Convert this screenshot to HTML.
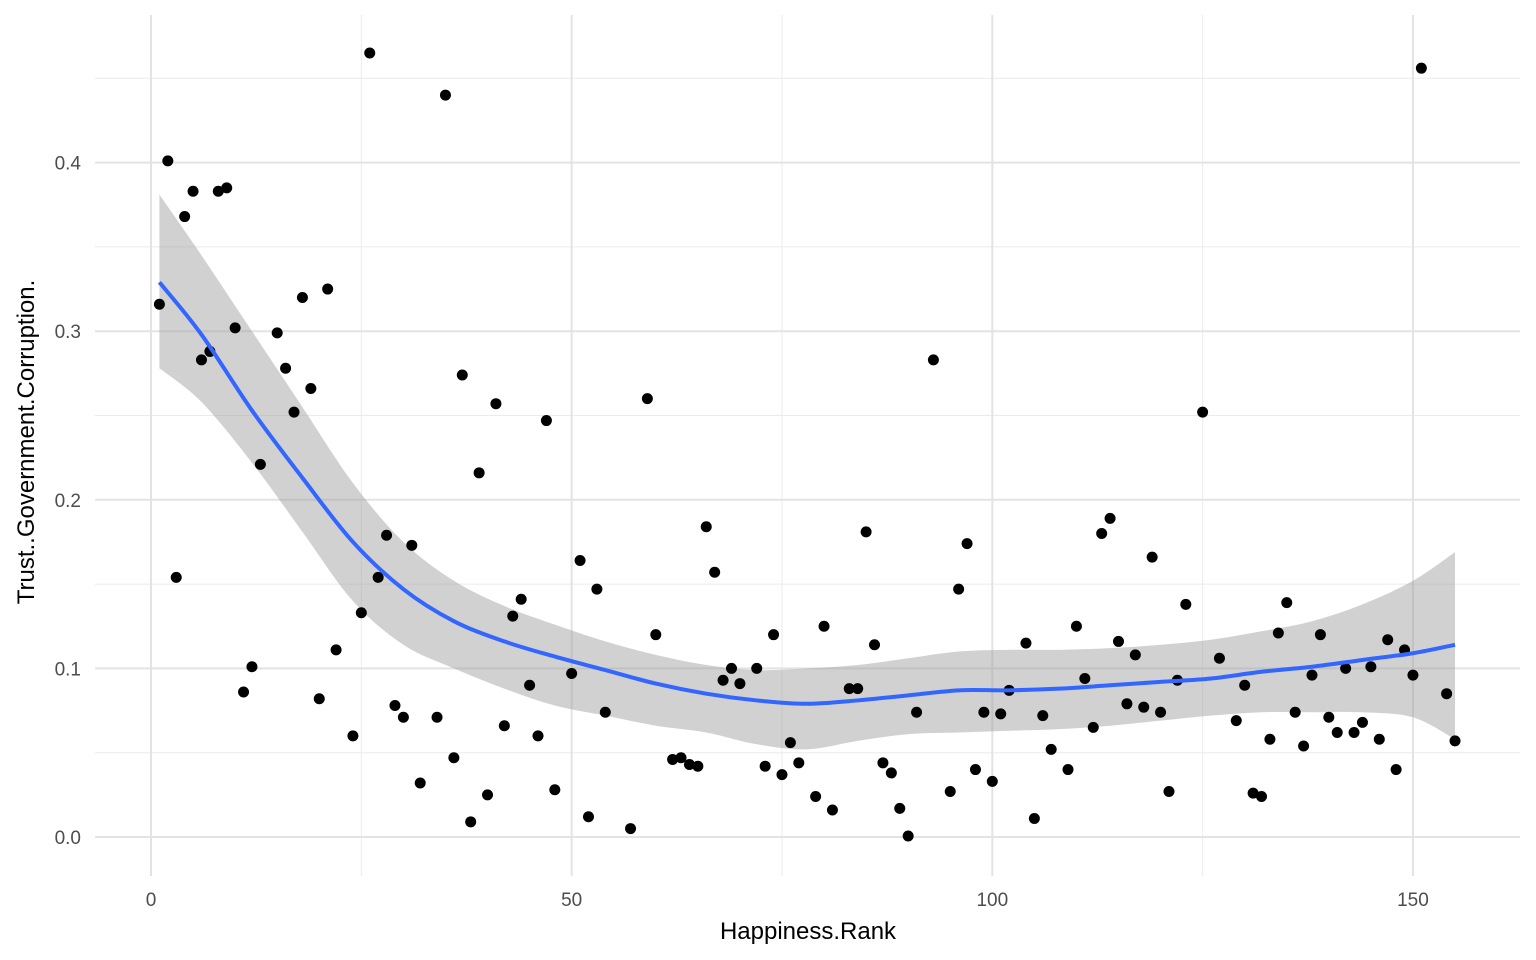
<!DOCTYPE html>
<html><head><meta charset="utf-8"><style>
html,body{margin:0;padding:0;background:#fff;}
svg{display:block;font-family:"Liberation Sans",Arial,sans-serif;}
</style></head><body>
<svg id="chart" width="1536" height="960" viewBox="0 0 1536 960">
<g id="grid"></g>
<g id="band"></g>
<g id="pts"></g>
<g id="line"></g>
<g id="axes"></g>
<text x="808" y="939" text-anchor="middle" font-size="24" fill="#000">Happiness.Rank</text>
<text transform="translate(34,442) rotate(-90)" text-anchor="middle" font-size="24" fill="#000">Trust..Government.Corruption.</text>
</svg>
<script>
const ranks=[1,2,3,4,5,6,7,8,9,10,11,12,13,15,16,17,18,19,20,21,22,24,25,26,27,28,29,30,31,32,34,35,36,37,38,39,40,41,42,43,44,45,46,47,48,50,51,52,53,54,57,59,60,62,63,64,65,66,67,68,69,70,72,73,74,75,76,77,79,80,81,83,84,85,86,87,88,89,90,91,93,95,96,97,98,99,100,101,102,104,105,106,107,109,110,111,112,113,114,115,116,117,118,119,120,121,122,123,125,127,129,130,131,132,133,134,135,136,137,138,139,140,141,142,143,144,145,146,147,148,149,150,151,154,155];
const trust=[0.316,0.401,0.154,0.368,0.383,0.283,0.288,0.383,0.385,0.302,0.086,0.101,0.221,0.299,0.278,0.252,0.320,0.266,0.082,0.325,0.111,0.060,0.133,0.465,0.154,0.179,0.078,0.071,0.173,0.032,0.071,0.440,0.047,0.274,0.009,0.216,0.025,0.257,0.066,0.131,0.141,0.090,0.060,0.247,0.028,0.097,0.164,0.012,0.147,0.074,0.005,0.260,0.120,0.046,0.047,0.043,0.042,0.184,0.157,0.093,0.100,0.091,0.100,0.042,0.120,0.037,0.056,0.044,0.024,0.125,0.016,0.088,0.088,0.181,0.114,0.044,0.038,0.017,0.0006,0.074,0.283,0.027,0.147,0.174,0.040,0.074,0.033,0.073,0.087,0.115,0.011,0.072,0.052,0.040,0.125,0.094,0.065,0.180,0.189,0.116,0.079,0.108,0.077,0.166,0.074,0.027,0.093,0.138,0.252,0.106,0.069,0.090,0.026,0.024,0.058,0.121,0.139,0.074,0.054,0.096,0.120,0.071,0.062,0.100,0.062,0.068,0.101,0.058,0.117,0.040,0.111,0.096,0.456,0.085,0.057];
const fitX=[1,6,12,18,24,30,36,42,48,54,60,66,72,78,84,90,96,102,108,114,120,126,132,138,144,150,155];
const fitY=[0.329,0.298,0.253,0.213,0.175,0.147,0.128,0.116,0.107,0.099,0.091,0.085,0.081,0.079,0.081,0.084,0.087,0.087,0.088,0.090,0.092,0.094,0.098,0.101,0.105,0.109,0.114];
const fitHi=[0.381,0.345,0.300,0.255,0.210,0.175,0.152,0.137,0.126,0.116,0.108,0.102,0.099,0.100,0.102,0.106,0.110,0.111,0.111,0.112,0.114,0.117,0.122,0.128,0.138,0.152,0.169];
const fitLo=[0.278,0.258,0.222,0.181,0.140,0.114,0.100,0.088,0.078,0.072,0.066,0.062,0.055,0.052,0.057,0.061,0.062,0.063,0.064,0.066,0.069,0.072,0.074,0.074,0.074,0.071,0.058];
const xTicks=[0,50,100,150], xMinor=[25,75,125];
const yTicks=[0,0.1,0.2,0.3,0.4], yMinor=[0.05,0.15,0.25,0.35,0.45];
const yTickLabels=["0.0","0.1","0.2","0.3","0.4"];
const X=v=>151+v*8.413, Y=v=>837-v*1686;
const L=95,R=1520,T=15,B=876;
const NS="http://www.w3.org/2000/svg";
function mk(tag,attrs,parent){const e=document.createElementNS(NS,tag);for(const k in attrs)e.setAttribute(k,attrs[k]);parent.appendChild(e);return e;}
function smooth(p){let d='';for(let i=0;i<p.length-1;i++){const p0=p[Math.max(0,i-1)],p1=p[i],p2=p[i+1],p3=p[Math.min(p.length-1,i+2)];
const c1=[p1[0]+(p2[0]-p0[0])/6,p1[1]+(p2[1]-p0[1])/6],c2=[p2[0]-(p3[0]-p1[0])/6,p2[1]-(p3[1]-p1[1])/6];
d+='C'+c1+' '+c2+' '+p2;}return d;}
const grid=document.getElementById('grid');
xMinor.forEach(v=>{const l=mk('line',{x1:X(v),x2:X(v),y1:T,y2:B,stroke:'#ebebeb','stroke-width':1},grid);

});
yMinor.forEach(v=>{const l=mk('line',{x1:L,x2:R,y1:Y(v),y2:Y(v),stroke:'#ebebeb','stroke-width':1},grid);

});
xTicks.forEach(v=>{const l=mk('line',{x1:X(v),x2:X(v),y1:T,y2:B,stroke:'#e3e3e3','stroke-width':2},grid);

});
yTicks.forEach(v=>{const l=mk('line',{x1:L,x2:R,y1:Y(v),y2:Y(v),stroke:'#e3e3e3','stroke-width':2},grid);

});
const axes=document.getElementById('axes');
xTicks.forEach(v=>{const t=mk('text',{x:X(v),y:906,'text-anchor':'middle','font-size':19,fill:'#4d4d4d'},axes);t.textContent=v;

});
yTicks.forEach((v,i)=>{const t=mk('text',{x:81,y:Y(v)+7,'text-anchor':'end','font-size':19,fill:'#4d4d4d'},axes);t.textContent=yTickLabels[i];

});
const band=document.getElementById('band');
const hi=fitX.map((x,i)=>[X(x),Y(fitHi[i])]);
const lo=fitX.map((x,i)=>[X(x),Y(fitLo[i])]).reverse();
const bp=mk('path',{d:'M'+hi[0]+smooth(hi)+'L'+lo[0]+smooth(lo)+'Z',fill:'#999','fill-opacity':0.45},band);


const pts=document.getElementById('pts');
ranks.forEach((r,i)=>{const c=mk('circle',{cx:X(r),cy:Y(trust[i]),r:5.5,fill:'#000'},pts);

});
const lp=fitX.map((x,i)=>[X(x),Y(fitY[i])]);
const ln=mk('path',{d:'M'+lp[0]+smooth(lp),fill:'none',stroke:'#3366ff','stroke-width':4,'stroke-linejoin':'round'},document.getElementById('line'));


</script>
</body></html>
